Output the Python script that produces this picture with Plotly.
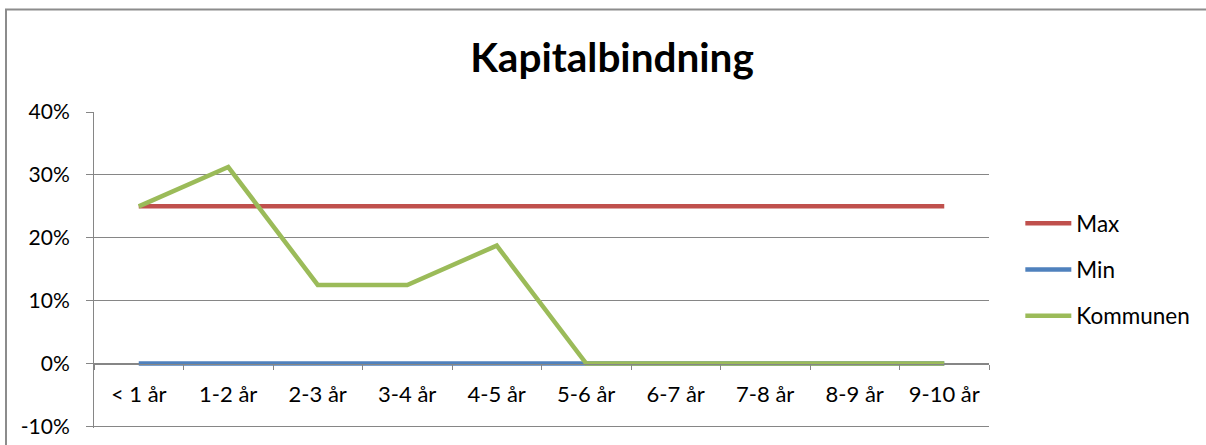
import plotly.graph_objects as go

categories = ["< 1 år", "1-2 år", "2-3 år", "3-4 år", "4-5 år", "5-6 år", "6-7 år", "7-8 år", "8-9 år", "9-10 år"]
max_vals = [0.25] * 10
min_vals = [0.0] * 10
kommunen_vals = [0.25, 0.3125, 0.125, 0.125, 0.1875, 0.0, 0.0, 0.0, 0.0, 0.0]
y_ticks = [-0.1, 0.0, 0.1, 0.2, 0.3, 0.4]
y_tick_text = ["-10%", "0%", "10%", "20%", "30%", "40%"]

FONT = "Lato"
GRID = "#868686"
Y_MIN, Y_MAX = -0.1025, 0.4

fig = go.Figure()
series = [("Max", max_vals, "#C0504D"), ("Min", min_vals, "#4F81BD"), ("Kommunen", kommunen_vals, "#9BBB59")]
for name, vals, col in series:
    fig.add_trace(go.Scatter(x=categories, y=vals, name=name, mode="lines",
                             line=dict(color=col, width=4.5), legendgroup=name,
                             hoverinfo="skip"))
# helper trace for the category axis drawn on the 0% line
fig.add_trace(go.Scatter(x=categories, y=[0] * len(categories), xaxis="x2", yaxis="y2",
                         mode="lines", showlegend=False, hoverinfo="skip", opacity=0))

zero_frac = (0 - Y_MIN) / (Y_MAX - Y_MIN)

fig.update_layout(
    width=1206, height=445,
    margin=dict(l=94, r=217, t=112, b=17, autoexpand=False),
    paper_bgcolor="white", plot_bgcolor="rgba(0,0,0,0)",
    font=dict(family=FONT, size=20, color="black"),
    title=dict(text="<b>Kapitalbindning</b>", x=612 / 1206, xanchor="center", y=1 - 58 / 445,
               yanchor="middle", font=dict(family=FONT, size=40.5, color="black")),
    xaxis=dict(type="category", categoryorder="array", categoryarray=categories,
               range=[-0.5, 9.5], showline=False, showticklabels=False, ticks="",
               showgrid=False, zeroline=False),
    yaxis=dict(range=[Y_MIN, Y_MAX], tickvals=y_ticks, ticktext=y_tick_text,
               showline=True, linecolor=GRID, linewidth=1, ticks="outside", ticklen=7,
               tickcolor=GRID, showgrid=True, gridcolor=GRID, gridwidth=1,
               zeroline=False, ticklabelstandoff=12, tickfont=dict(family=FONT, size=21)),
    xaxis2=dict(type="category", categoryorder="array", categoryarray=categories,
                range=[-0.5, 9.5], anchor="y2", domain=[0, 1], showline=True,
                linecolor=GRID, linewidth=1, ticks="outside", tickson="boundaries",
                ticklen=5, tickcolor=GRID, showgrid=False, zeroline=False,
                ticklabelstandoff=11, tickfont=dict(family=FONT, size=22)),
    yaxis2=dict(domain=[zero_frac, 1], range=[0, 1], visible=False, anchor="x2",
                showgrid=False, zeroline=False),
    legend=dict(x=1.035, xanchor="left", y=0.715, yanchor="top", traceorder="grouped",
                tracegroupgap=14, itemwidth=46, font=dict(family=FONT, size=22.5),
                bgcolor="rgba(0,0,0,0)"),
    showlegend=True,
)
fig.add_shape(type="rect", xref="paper", yref="paper",
              x0=(6 - 94) / 895, x1=1.3, y0=-0.1, y1=(428 - 9.5) / 316,
              line=dict(color="#8C8C8C", width=2), layer="below")

fig.write_html("out.html", config={"displayModeBar": False},
               post_script="document.body.style.margin='0';")
